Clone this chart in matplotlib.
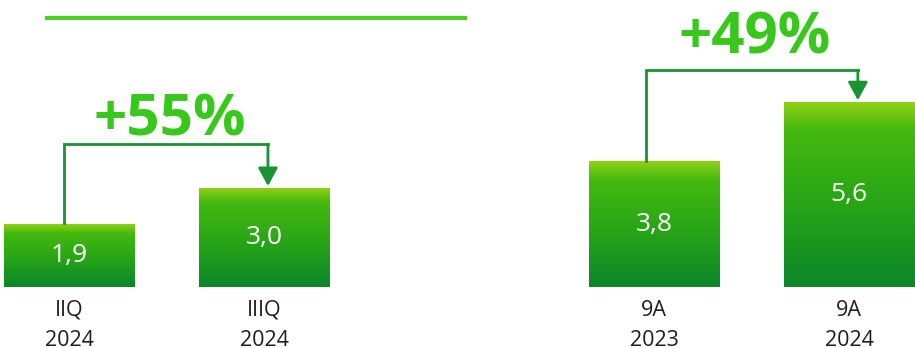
import matplotlib.pyplot as plt
import numpy as np
from matplotlib.colors import LinearSegmentedColormap
from matplotlib.lines import Line2D

categories = ['IIQ\n2024', 'IIIQ\n2024', '9A\n2023', '9A\n2024']
values = [1.9, 3.0, 3.8, 5.6]
value_labels = ['1,9', '3,0', '3,8', '5,6']
growth_labels = ['+55%', '+49%']

positions = [0, 1, 3, 4]
bar_width = 0.667

plt.rcParams['font.family'] = ['Open Sans', 'DejaVu Sans']

fig = plt.figure(figsize=(9.15, 3.48), dpi=100)
ax = fig.add_axes([0, 0, 1, 1])
ax.set_xlim(-0.354, 4.338)
ax.set_ylim(-1.85, 8.70)
ax.axis('off')

cmap = LinearSegmentedColormap.from_list(
    'bar_grad', [(0.0, '#0b862a'), (0.45, '#28a516'), (0.85, '#43b90f'), (1.0, '#90d014')])
grad = np.linspace(0, 1, 256).reshape(-1, 1)

bars = ax.bar(positions, values, width=bar_width, color='none', edgecolor='none')
for b, lab in zip(bars, value_labels):
    x0, w, h = b.get_x(), b.get_width(), b.get_height()
    ax.imshow(grad, cmap=cmap, origin='lower', aspect='auto',
              extent=(x0, x0 + w, 0, h), zorder=2)
    ax.text(x0 + w / 2, h / 2, lab, ha='center', va='center',
            color='white', fontsize=19, zorder=3)

for p, cat in zip(positions, categories):
    ax.text(p, -0.38, cat, ha='center', va='top', fontsize=15.5,
            color='#1e1e1e', linespacing=1.62)

# growth connectors: (left bar, right bar, line level, start offset, end offset, text y)
arrow_color = '#1a9432'
connectors = [(0, 1, 4.33, -0.026, 0.02, 4.6), (2, 3, 6.58, -0.04, 0.045, 7.09)]
for (i, j, level, dx0, dx1, ty), txt in zip(connectors, growth_labels):
    xa = positions[i] + dx0
    xb = positions[j] + dx1
    ax.plot([xa, xa, xb], [values[i] + 0.03, level, level],
            color=arrow_color, lw=2.0, solid_joinstyle='miter', zorder=4)
    ax.annotate('', xy=(xb, values[j] + 0.06), xytext=(xb, level),
                arrowprops=dict(arrowstyle='-|>,head_length=0.55,head_width=0.3',
                                color=arrow_color, lw=2.0, shrinkA=0, shrinkB=0,
                                mutation_scale=20), zorder=4)
    ax.text((positions[i] + positions[j]) / 2 + 0.015, ty, txt, ha='center', va='baseline',
            fontsize=42, fontweight='bold', color='#38c81c', zorder=4)

fig.add_artist(Line2D([47 / 915, 465 / 915], [1 - 18 / 348, 1 - 18 / 348],
                      color='#4fcf26', lw=3))

fig.savefig('out.png', dpi=100)
